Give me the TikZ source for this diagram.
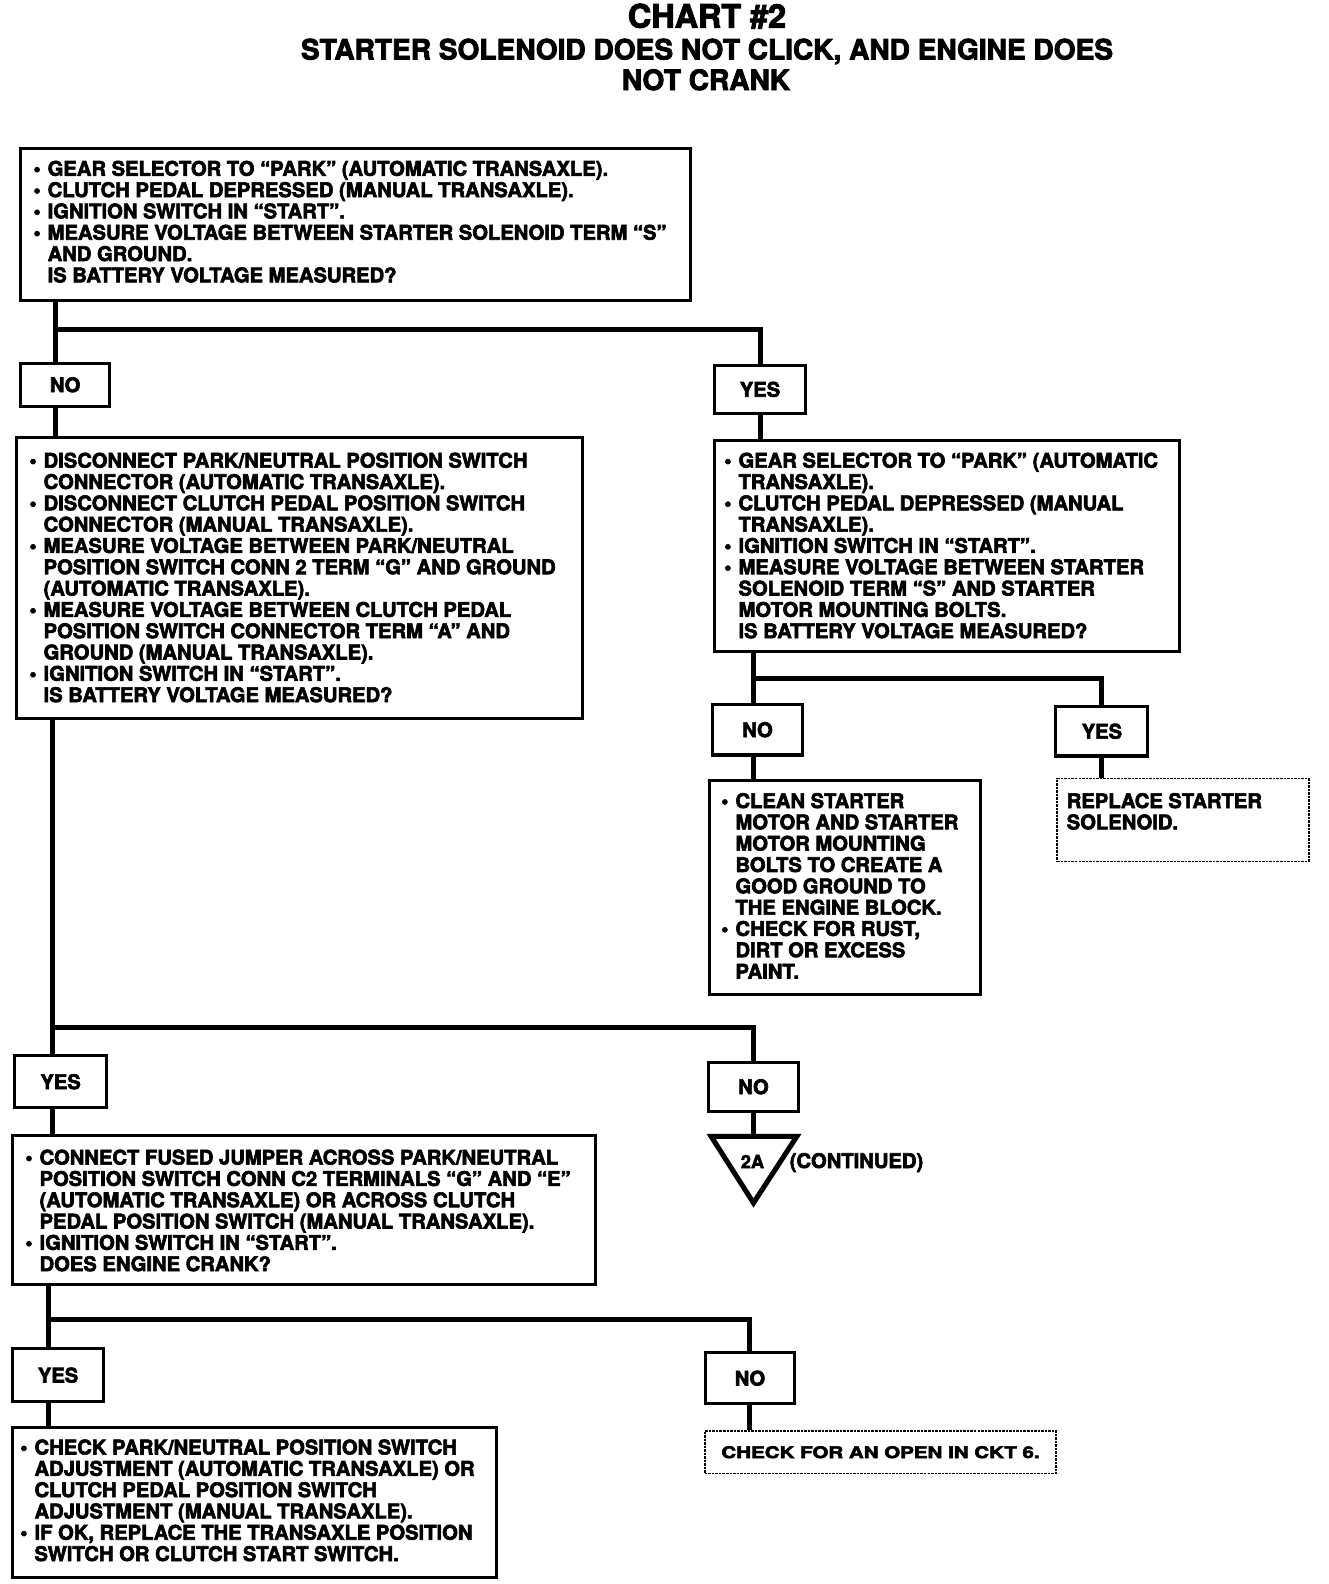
\documentclass[tikz,border=0pt]{standalone}
\usepackage{fontspec}
\usepackage{graphicx}
\setmainfont{TeX Gyre Heros}[BoldFeatures={FakeBold=3}]
\usetikzlibrary{calc}
\newcommand\B{\makebox[14pt][l]{•}}
\newcommand\I{\makebox[14pt][l]{}}
\begin{document}
\begin{tikzpicture}[x=1pt,y=-1pt,
 box/.style={draw,line width=3pt,anchor=north west,inner sep=0pt},
 dbox/.style={draw,line width=1.6pt,dash pattern=on 2.5pt off 1pt,anchor=north west,inner sep=0pt},
 txt/.style={anchor=north west,inner sep=0pt,align=left,font=\fontsize{20}{21.1}\selectfont\bfseries},
 lbl/.style={box,font=\fontsize{20}{21}\selectfont\bfseries},
 conn/.style={line width=5pt}]
\useasboundingbox (0,0) rectangle (1314.85,1568.3);
% title
\node[font=\fontsize{32}{32}\selectfont\bfseries,inner sep=0pt] (title) at (700,16) {CHART \#2};
\node[font=\fontsize{27.8}{28}\selectfont\bfseries,inner sep=0pt] (sub1) at (700,51) {STARTER SOLENOID DOES NOT CLICK, AND ENGINE DOES};
\node[font=\fontsize{27.8}{28}\selectfont\bfseries,inner sep=0pt] (sub2) at (699,79) {NOT CRANK};
% boxes
\node[box,minimum width=663pt,minimum height=150pt] (top) at (19,146) {};
\node[txt] (topt) at (33,159) {\B GEAR SELECTOR TO “PARK” (AUTOMATIC TRANSAXLE).\\
\B CLUTCH PEDAL DEPRESSED (MANUAL TRANSAXLE).\\
\B IGNITION SWITCH IN “START”.\\
\B MEASURE VOLTAGE BETWEEN STARTER SOLENOID TERM “S”\\
\I AND GROUND.\\
\I IS BATTERY VOLTAGE MEASURED?};
\node[lbl,minimum width=88pt,minimum height=43pt] (no1) at (19,358) {NO};
\node[lbl,minimum width=90pt,minimum height=48pt] (yes1) at (706,360) {YES};
\node[box,minimum width=560pt,minimum height=278pt] (left) at (15,432) {};
\node[txt] (leftt) at (29,448) {\B DISCONNECT PARK/NEUTRAL POSITION SWITCH\\
\I CONNECTOR (AUTOMATIC TRANSAXLE).\\
\B DISCONNECT CLUTCH PEDAL POSITION SWITCH\\
\I CONNECTOR (MANUAL TRANSAXLE).\\
\B MEASURE VOLTAGE BETWEEN PARK/NEUTRAL\\
\I POSITION SWITCH CONN 2 TERM “G” AND GROUND\\
\I (AUTOMATIC TRANSAXLE).\\
\B MEASURE VOLTAGE BETWEEN CLUTCH PEDAL\\
\I POSITION SWITCH CONNECTOR TERM “A” AND\\
\I GROUND (MANUAL TRANSAXLE).\\
\B IGNITION SWITCH IN “START”.\\
\I IS BATTERY VOLTAGE MEASURED?};
\node[box,minimum width=460pt,minimum height=209pt] (right) at (706,435) {};
\node[txt] (rightt) at (717,448) {\B GEAR SELECTOR TO “PARK” (AUTOMATIC\\
\I TRANSAXLE).\\
\B CLUTCH PEDAL DEPRESSED (MANUAL\\
\I TRANSAXLE).\\
\B IGNITION SWITCH IN “START”.\\
\B MEASURE VOLTAGE BETWEEN STARTER\\
\I SOLENOID TERM “S” AND STARTER\\
\I MOTOR MOUNTING BOLTS.\\
\I IS BATTERY VOLTAGE MEASURED?};
\node[lbl,minimum width=89pt,minimum height=50pt] (no2) at (704,696) {NO};
\node[lbl,minimum width=91pt,minimum height=49pt] (yes2) at (1044,698) {YES};
\node[box,minimum width=268pt,minimum height=212pt] (clean) at (701,771) {};
\node[txt] (cleant) at (714,785) {\B CLEAN STARTER\\
\I MOTOR AND STARTER\\
\I MOTOR MOUNTING\\
\I BOLTS TO CREATE A\\
\I GOOD GROUND TO\\
\I THE ENGINE BLOCK.\\
\B CHECK FOR RUST,\\
\I DIRT OR EXCESS\\
\I PAINT.};
\node[dbox,minimum width=249pt,minimum height=82pt] (rep) at (1046,770) {};
\node[txt] (rept) at (1056,785) {REPLACE STARTER\\ SOLENOID.};
\node[lbl,minimum width=91pt,minimum height=51pt] (yes3) at (13,1044) {YES};
\node[lbl,minimum width=89pt,minimum height=49pt] (no3) at (700,1050) {NO};
\coordinate (tri) at (746,1125);
\node[font=\fontsize{18}{18}\selectfont\bfseries,inner sep=0pt] (twoa) at (745,1150) {2A};
\node[font=\fontsize{20}{20}\selectfont\bfseries,inner sep=0pt] (cont) at (848,1151) {(CONTINUED)};
\node[box,minimum width=577pt,minimum height=147pt] (jump) at (11,1123) {};
\node[txt] (jumpt) at (25,1138) {\B CONNECT FUSED JUMPER ACROSS PARK/NEUTRAL\\
\I POSITION SWITCH CONN C2 TERMINALS “G” AND “E”\\
\I (AUTOMATIC TRANSAXLE) OR ACROSS CLUTCH\\
\I PEDAL POSITION SWITCH (MANUAL TRANSAXLE).\\
\B IGNITION SWITCH IN “START”.\\
\I DOES ENGINE CRANK?};
\node[lbl,minimum width=90pt,minimum height=52pt] (yes4) at (11,1334) {YES};
\node[lbl,minimum width=88pt,minimum height=50pt] (no4) at (697,1338) {NO};
\node[box,minimum width=479pt,minimum height=148pt] (park) at (11,1412) {};
\node[txt] (parkt) at (20,1425) {\B CHECK PARK/NEUTRAL POSITION SWITCH\\
\I ADJUSTMENT (AUTOMATIC TRANSAXLE) OR\\
\I CLUTCH PEDAL POSITION SWITCH\\
\I ADJUSTMENT (MANUAL TRANSAXLE).\\
\B IF OK, REPLACE THE TRANSAXLE POSITION\\
\I SWITCH OR CLUTCH START SWITCH.};
\node[dbox,minimum width=348pt,minimum height=42pt] (ckt) at (697,1416) {};
\node[font=\fontsize{16}{16}\selectfont\bfseries,inner sep=0pt] (cktt) at (ckt.center) {\scalebox{1.27}[1]{CHECK FOR AN OPEN IN CKT 6.}};
% connectors
\coordinate (j1) at (55,326);
\draw[conn] (top.south -| j1) -- (no1.north -| j1);
\draw[conn] (j1) -| (yes1.north);
\draw[conn] (no1.south -| j1) -- (left.north -| j1);
\draw[conn] (yes1.south) -- (yes1.south |- right.north);
\coordinate (j2) at (746,672);
\draw[conn] (right.south -| j2) -- (no2.north -| j2);
\draw[conn] (j2) -| (yes2.north);
\draw[conn] (no2.south -| j2) -- (clean.north -| j2);
\draw[conn] (yes2.south) -- (yes2.south |- rep.north);
\coordinate (j3) at (52,1017);
\draw[conn] (left.south -| j3) -- (yes3.north -| j3);
\draw[conn] (j3) -| (no3.north);
\draw[conn] (yes3.south -| j3) -- (jump.north -| j3);
\draw[conn] (no3.south) -- (no3.south |- tri);
\draw[line width=5pt,line join=miter] ($(tri)+(-42,0)$) -- ($(tri)+(43,0)$) -- ($(tri)+(0,66)$) -- cycle;
\coordinate (j4) at (48,1306);
\draw[conn] (jump.south -| j4) -- (yes4.north -| j4);
\draw[conn] (j4) -| (no4.north);
\draw[conn] (yes4.south -| j4) -- (park.north -| j4);
\draw[conn] (no4.south) -- (no4.south |- ckt.north);
\end{tikzpicture}
\end{document}
